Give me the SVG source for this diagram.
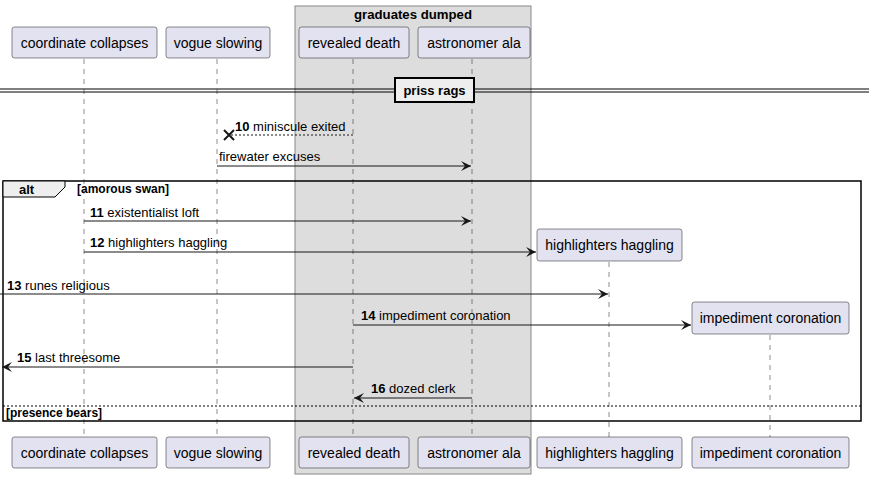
<svg xmlns="http://www.w3.org/2000/svg" width="875" height="479" viewBox="0 0 875 479">
<style>
.p{fill:#E2E2F0;stroke:#181818;stroke-width:0.5}
.t{font-family:"Liberation Sans",Arial,sans-serif;font-size:14px;fill:#000}
.m{font-family:"Liberation Sans",Arial,sans-serif;font-size:13px;fill:#000}
.b{font-weight:bold}
.g{font-size:12px}
.ll{stroke:#181818;stroke-width:0.5;stroke-dasharray:5,5}
.msg{stroke:#181818;stroke-width:1;fill:none}
</style>
<defs>
<marker id="ah" markerWidth="12" markerHeight="10" refX="10" refY="5" orient="auto" markerUnits="userSpaceOnUse">
<path d="M0,0 L10,5 L0,10 L4,5 Z" fill="#181818"/>
</marker>
</defs>
<rect width="875" height="479" fill="#fff"/>
<g id="box-graduates">
<rect x="295" y="6" width="236" height="468" fill="#DDDDDD" stroke="#888" stroke-width="1"/>
<text x="413" y="19" class="t b" style="font-size:13.2px" text-anchor="middle">graduates dumped</text>
</g>
<g id="lifelines">
<line class="ll" x1="84" y1="59" x2="84" y2="437"/>
<line class="ll" x1="217" y1="59" x2="217" y2="437"/>
<line class="ll" x1="353" y1="59" x2="353" y2="437"/>
<line class="ll" x1="472" y1="59" x2="472" y2="437"/>
<line class="ll" x1="609" y1="262" x2="609" y2="437"/>
<line class="ll" x1="770" y1="335" x2="770" y2="437"/>
</g>
<g id="coordinate-collapses">
<rect class="p" x="12" y="27" width="145" height="31" rx="2.5"/>
<text class="t" x="84.5" y="48" text-anchor="middle">coordinate collapses</text>
<rect class="p" x="12" y="437" width="145" height="31" rx="2.5"/>
<text class="t" x="84.5" y="458" text-anchor="middle">coordinate collapses</text>
</g>
<g id="vogue-slowing">
<rect class="p" x="166" y="27" width="104" height="31" rx="2.5"/>
<text class="t" x="218" y="48" text-anchor="middle">vogue slowing</text>
<rect class="p" x="166" y="437" width="104" height="31" rx="2.5"/>
<text class="t" x="218" y="458" text-anchor="middle">vogue slowing</text>
</g>
<g id="revealed-death">
<rect class="p" x="299" y="27" width="110" height="31" rx="2.5"/>
<text class="t" x="354" y="48" text-anchor="middle">revealed death</text>
<rect class="p" x="299" y="437" width="110" height="31" rx="2.5"/>
<text class="t" x="354" y="458" text-anchor="middle">revealed death</text>
</g>
<g id="astronomer-ala">
<rect class="p" x="418" y="27" width="112" height="31" rx="2.5"/>
<text class="t" x="474" y="48" text-anchor="middle">astronomer ala</text>
<rect class="p" x="418" y="437" width="112" height="31" rx="2.5"/>
<text class="t" x="474" y="458" text-anchor="middle">astronomer ala</text>
</g>
<g id="highlighters-haggling">
<rect class="p" x="537" y="229" width="145" height="32" rx="2.5"/>
<text class="t" x="609.5" y="250" text-anchor="middle">highlighters haggling</text>
<rect class="p" x="537" y="437" width="145" height="31" rx="2.5"/>
<text class="t" x="609.5" y="458" text-anchor="middle">highlighters haggling</text>
</g>
<g id="impediment-coronation">
<rect class="p" x="692" y="302" width="157" height="32" rx="2.5"/>
<text class="t" x="770.5" y="323" text-anchor="middle">impediment coronation</text>
<rect class="p" x="692" y="437" width="157" height="31" rx="2.5"/>
<text class="t" x="770.5" y="458" text-anchor="middle">impediment coronation</text>
</g>
<g id="divider">
<line x1="0" y1="89" x2="869" y2="89" stroke="#000" stroke-width="1"/>
<line x1="0" y1="92" x2="869" y2="92" stroke="#000" stroke-width="1"/>
<rect x="395" y="78" width="79" height="24" fill="#EEEEEE" stroke="#000" stroke-width="2"/>
<text class="m b" x="434.5" y="95" text-anchor="middle">priss rags</text>
</g>
<g id="alt-frame">
<rect x="3" y="181" width="858" height="240" fill="none" stroke="#000" stroke-width="1.5"/>
<path d="M3,181 L65,181 L65,187 L55,197 L3,197 Z" fill="#EEEEEE" stroke="#000" stroke-width="1"/>
<text class="m b" x="19" y="194">alt</text>
<text class="m b g" x="77" y="193">[amorous swan]</text>
<line x1="3" y1="406" x2="861" y2="406" stroke="#000" stroke-width="1" stroke-dasharray="2,2"/>
<text class="m b g" x="6" y="417">[presence bears]</text>
</g>
<g id="connectors">
<line class="msg" x1="353" y1="135" x2="230" y2="135" stroke-dasharray="2,2"/>
<path d="M224,130 L234,140 M234,130 L224,140" stroke="#181818" stroke-width="2"/>
<text class="m" x="235" y="131"><tspan class="b">10</tspan> miniscule exited</text>
<line class="msg" x1="217" y1="166" x2="471" y2="166" marker-end="url(#ah)"/>
<text class="m" x="219" y="161">firewater excuses</text>
<line class="msg" x1="84" y1="221" x2="471" y2="221" marker-end="url(#ah)"/>
<text class="m" x="90" y="217"><tspan class="b">11</tspan> existentialist loft</text>
<line class="msg" x1="84" y1="252" x2="536" y2="252" marker-end="url(#ah)"/>
<text class="m" x="90" y="247"><tspan class="b">12</tspan> highlighters haggling</text>
<line class="msg" x1="0" y1="294" x2="608" y2="294" marker-end="url(#ah)"/>
<text class="m" x="7" y="290"><tspan class="b">13</tspan> runes religious</text>
<line class="msg" x1="353" y1="325" x2="691" y2="325" marker-end="url(#ah)"/>
<text class="m" x="361" y="320"><tspan class="b">14</tspan> impediment coronation</text>
<line class="msg" x1="353" y1="367" x2="2" y2="367" marker-end="url(#ah)"/>
<text class="m" x="17" y="362"><tspan class="b">15</tspan> last threesome</text>
<line class="msg" x1="472" y1="398" x2="354" y2="398" marker-end="url(#ah)"/>
<text class="m" x="371" y="393"><tspan class="b">16</tspan> dozed clerk</text>
</g>
</svg>
